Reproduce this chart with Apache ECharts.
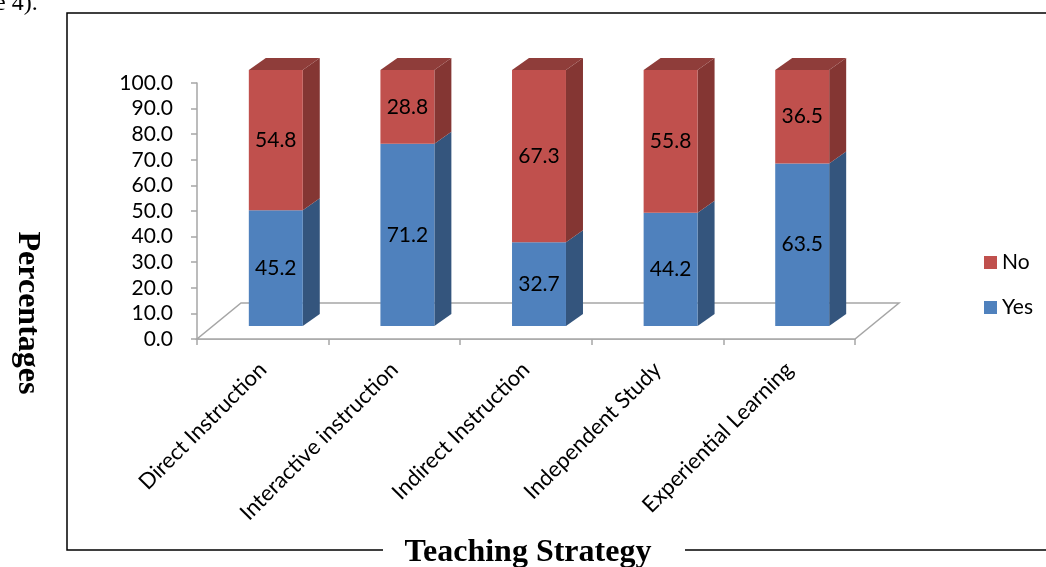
<!DOCTYPE html>
<html>
<head>
<meta charset="utf-8">
<script src="https://cdn.jsdelivr.net/npm/echarts@6/dist/echarts.min.js"></script>
<style>
  html, body { margin: 0; padding: 0; background: #ffffff; }
  #chart { width: 1046px; height: 567px; }
</style>
</head>
<body>
<div id="chart"></div>
<script>
// Teaching strategies and the share of respondents answering Yes / No
const categories = ['Direct Instruction', 'Interactive instruction', 'Indirect Instruction', 'Independent Study', 'Experiential Learning'];
const yesValues = [45.2, 71.2, 32.7, 44.2, 63.5];
const noValues = [54.8, 28.8, 67.3, 55.8, 36.5];
const yTicks = [0, 10, 20, 30, 40, 50, 60, 70, 80, 90, 100];

const FONT = 'Lato, "Open Sans", sans-serif';
const SERIF = '"Liberation Serif", "DejaVu Serif", serif';

// pseudo-3D geometry of the columns
const FRONT_DX = 13, FRONT_DY = -13;   // column front face sits slightly back from the axis plane
const DEPTH_DX = 17, DEPTH_DY = -12;   // visible depth of each column
const FLOOR_DX = 44, FLOOR_DY = -36;   // depth of the floor plane
const BAR_RATIO = 0.41;

const faces = {
  Yes: { front: '#4f81bd', side: '#34557d', top: '#3f6a9c' },
  No:  { front: '#c0504d', side: '#843633', top: '#8f3d3a' }
};

function columnItem(name) {
  return function (params, api) {
    const idx = api.value(0);
    const lo = api.coord([idx, api.value(1)]);
    const hi = api.coord([idx, api.value(2)]);
    const band = api.size([1, 0])[0];
    const w = band * BAR_RATIO;
    const x0 = lo[0] - w / 2 + FRONT_DX;
    const x1 = x0 + w;
    const yb = lo[1] + FRONT_DY;
    const yt = hi[1] + FRONT_DY;
    const c = faces[name];
    const children = [
      { type: 'polygon', shape: { points: [[x1, yb], [x1 + DEPTH_DX, yb + DEPTH_DY], [x1 + DEPTH_DX, yt + DEPTH_DY], [x1, yt]] },
        style: { fill: c.side } },
      { type: 'rect', shape: { x: x0, y: yt, width: w, height: yb - yt }, style: { fill: c.front } }
    ];
    if (name === 'No') {
      children.push({ type: 'polygon', shape: { points: [[x0, yt], [x0 + DEPTH_DX, yt + DEPTH_DY], [x1 + DEPTH_DX, yt + DEPTH_DY], [x1, yt]] },
        style: { fill: c.top } });
    }
    const v = api.value(2) - api.value(1);
    children.push({ type: 'text', style: { text: v.toFixed(1), x: (x0 + x1) / 2, y: (yt + yb) / 2,
      align: 'center', verticalAlign: 'middle', fill: '#000', font: '21px ' + FONT }, z2: 10 });
    return { type: 'group', children: children };
  };
}

const yesData = yesValues.map((v, i) => [i, 0, v]);
const noData = noValues.map((v, i) => [i, yesValues[i], yesValues[i] + v]);

const chart = echarts.init(document.getElementById('chart'), null, { renderer: 'canvas' });

chart.setOption({
  animation: false,
  backgroundColor: '#ffffff',
  grid: { left: 197, right: 191, top: 83, bottom: 228, containLabel: false },
  legend: {
    orient: 'vertical', left: 979, top: 247, itemGap: 24,
    itemWidth: 13, itemHeight: 13, icon: 'rect',
    data: ['No', 'Yes'],
    textStyle: { fontFamily: FONT, fontSize: 21, color: '#000', padding: [0, 0, 0, 0] }
  },
  xAxis: {
    type: 'category', data: categories, boundaryGap: true,
    axisLine: { show: true, lineStyle: { color: '#a6a6a6', width: 1.5 } },
    axisTick: { show: true, length: 6, alignWithLabel: false, lineStyle: { color: '#a6a6a6', width: 1.5 } },
    axisLabel: { rotate: 45, margin: 27, interval: 0, color: '#000', fontFamily: FONT, fontSize: 22 },
    splitLine: { show: false }
  },
  yAxis: {
    type: 'value', min: yTicks[0], max: yTicks[yTicks.length - 1], interval: 10,
    axisLine: { show: true, lineStyle: { color: '#a6a6a6', width: 1.5 } },
    axisTick: { show: true, length: 6, lineStyle: { color: '#a6a6a6', width: 1.5 } },
    axisLabel: { margin: 24, color: '#000', fontFamily: FONT, fontSize: 21, formatter: v => v.toFixed(1) },
    splitLine: { show: false }
  },
  series: [
    {
      // floor plane under the columns
      type: 'custom', name: 'floor', silent: true, z: 1,
      data: [[0]],
      renderItem: function (params) {
        const cs = params.coordSys;
        const xl = cs.x, xr = cs.x + cs.width, yf = cs.y + cs.height;
        return {
          type: 'polygon',
          shape: { points: [[xl, yf], [xr, yf], [xr + FLOOR_DX, yf + FLOOR_DY], [xl + FLOOR_DX, yf + FLOOR_DY]] },
          style: { fill: '#ffffff', stroke: '#a6a6a6', lineWidth: 1.5 }
        };
      }
    },
    {
      type: 'custom', name: 'Yes', z: 3, itemStyle: { color: faces.Yes.front },
      encode: { x: 0, y: 2 }, data: yesData, renderItem: columnItem('Yes')
    },
    {
      type: 'custom', name: 'No', z: 4, itemStyle: { color: faces.No.front },
      encode: { x: 0, y: 2 }, data: noData, renderItem: columnItem('No')
    }
  ],
  graphic: [
    { type: 'text', left: -5, top: -8, style: { text: 'e 4).', font: '24px ' + SERIF, fill: '#000' } },
    // outer frame, broken where the axis title sits
    { type: 'polyline', shape: { points: [[383, 550], [67, 550], [67, 13], [1050, 13]] },
      style: { stroke: '#000', lineWidth: 1.5, fill: null } },
    { type: 'line', shape: { x1: 685, y1: 550, x2: 1050, y2: 550 }, style: { stroke: '#000', lineWidth: 1.5 } },
    { type: 'text', x: 528, y: 553, style: { text: 'Teaching Strategy', font: 'bold 32px ' + SERIF, fill: '#000',
      align: 'center', verticalAlign: 'middle' } },
    { type: 'text', x: 27, y: 313, rotation: -Math.PI / 2, style: { text: 'Percentages', font: 'bold 32px ' + SERIF,
      fill: '#000', align: 'center', verticalAlign: 'middle' } }
  ]
});
</script>
</body>
</html>
